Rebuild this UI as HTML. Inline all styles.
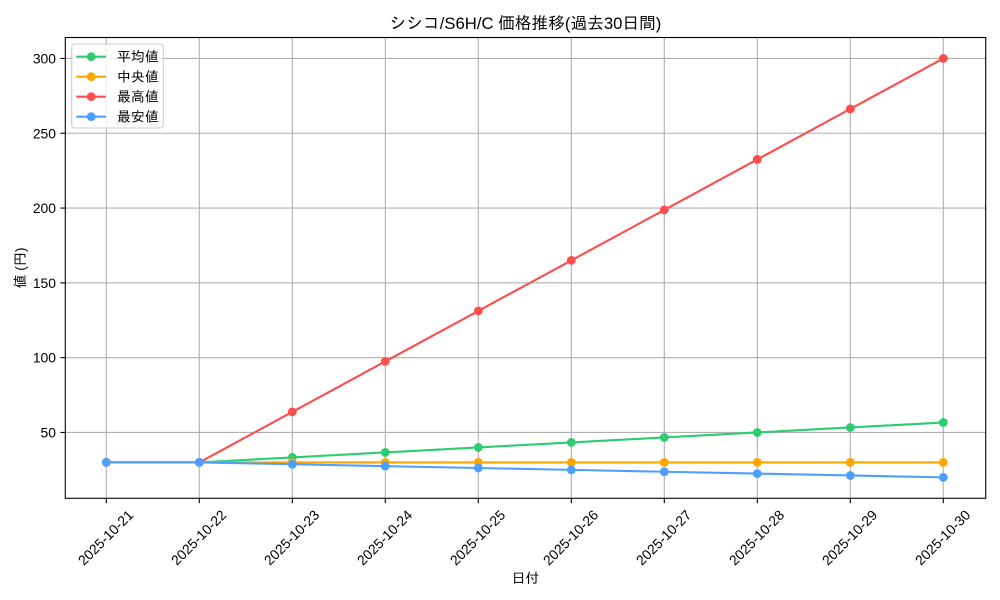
<!DOCTYPE html>
<html>
<head>
<meta charset="utf-8">
<style>
  html, body { margin: 0; padding: 0; background: #ffffff; }
  svg { display: block; }
  text { font-family: "Liberation Sans", "IPAGothic", sans-serif; fill: #000; }
</style>
</head>
<body>
<svg width="1000" height="600" viewBox="0 0 1000 600" xmlns="http://www.w3.org/2000/svg">
  <rect x="0" y="0" width="1000" height="600" fill="#ffffff"/>

  <!-- grid -->
  <g stroke="#b0b0b0" stroke-width="1.1" fill="none">
    <line x1="106.3" y1="37.5" x2="106.3" y2="498.3"/>
    <line x1="199.3" y1="37.5" x2="199.3" y2="498.3"/>
    <line x1="292.3" y1="37.5" x2="292.3" y2="498.3"/>
    <line x1="385.3" y1="37.5" x2="385.3" y2="498.3"/>
    <line x1="478.3" y1="37.5" x2="478.3" y2="498.3"/>
    <line x1="571.3" y1="37.5" x2="571.3" y2="498.3"/>
    <line x1="664.3" y1="37.5" x2="664.3" y2="498.3"/>
    <line x1="757.3" y1="37.5" x2="757.3" y2="498.3"/>
    <line x1="850.3" y1="37.5" x2="850.3" y2="498.3"/>
    <line x1="943.3" y1="37.5" x2="943.3" y2="498.3"/>
    <line x1="65.3" y1="58.45" x2="985.7" y2="58.45"/>
    <line x1="65.3" y1="133.25" x2="985.7" y2="133.25"/>
    <line x1="65.3" y1="208.05" x2="985.7" y2="208.05"/>
    <line x1="65.3" y1="282.86" x2="985.7" y2="282.86"/>
    <line x1="65.3" y1="357.66" x2="985.7" y2="357.66"/>
    <line x1="65.3" y1="432.46" x2="985.7" y2="432.46"/>
  </g>

  <!-- series -->
  <g stroke-width="2.1" fill="none" stroke-linejoin="round" stroke-linecap="square">
    <polyline stroke="#2ecc71" points="106.3,462.39 199.3,462.39 292.3,457.40 385.3,452.42 478.3,447.43 571.3,442.45 664.3,437.46 757.3,432.47 850.3,427.48 943.3,422.49"/>
    <polyline stroke="#ffa500" points="106.3,462.39 199.3,462.39 292.3,462.39 385.3,462.39 478.3,462.39 571.3,462.39 664.3,462.39 757.3,462.39 850.3,462.39 943.3,462.39"/>
    <polyline stroke="#ff4d4d" points="106.3,462.39 199.3,462.39 292.3,411.89 385.3,361.40 478.3,310.90 571.3,260.41 664.3,209.92 757.3,159.43 850.3,108.93 943.3,58.45"/>
    <polyline stroke="#4d9fff" points="106.3,462.39 199.3,462.39 292.3,464.26 385.3,466.13 478.3,468.00 571.3,469.87 664.3,471.74 757.3,473.61 850.3,475.48 943.3,477.36"/>
  </g>
  <g fill="#2ecc71">
    <circle cx="106.3" cy="462.39" r="4.4"/><circle cx="199.3" cy="462.39" r="4.4"/><circle cx="292.3" cy="457.40" r="4.4"/><circle cx="385.3" cy="452.42" r="4.4"/><circle cx="478.3" cy="447.43" r="4.4"/><circle cx="571.3" cy="442.45" r="4.4"/><circle cx="664.3" cy="437.46" r="4.4"/><circle cx="757.3" cy="432.47" r="4.4"/><circle cx="850.3" cy="427.48" r="4.4"/><circle cx="943.3" cy="422.49" r="4.4"/>
  </g>
  <g fill="#ffa500">
    <circle cx="106.3" cy="462.39" r="4.4"/><circle cx="199.3" cy="462.39" r="4.4"/><circle cx="292.3" cy="462.39" r="4.4"/><circle cx="385.3" cy="462.39" r="4.4"/><circle cx="478.3" cy="462.39" r="4.4"/><circle cx="571.3" cy="462.39" r="4.4"/><circle cx="664.3" cy="462.39" r="4.4"/><circle cx="757.3" cy="462.39" r="4.4"/><circle cx="850.3" cy="462.39" r="4.4"/><circle cx="943.3" cy="462.39" r="4.4"/>
  </g>
  <g fill="#ff4d4d">
    <circle cx="106.3" cy="462.39" r="4.4"/><circle cx="199.3" cy="462.39" r="4.4"/><circle cx="292.3" cy="411.89" r="4.4"/><circle cx="385.3" cy="361.40" r="4.4"/><circle cx="478.3" cy="310.90" r="4.4"/><circle cx="571.3" cy="260.41" r="4.4"/><circle cx="664.3" cy="209.92" r="4.4"/><circle cx="757.3" cy="159.43" r="4.4"/><circle cx="850.3" cy="108.93" r="4.4"/><circle cx="943.3" cy="58.45" r="4.4"/>
  </g>
  <g fill="#4d9fff">
    <circle cx="106.3" cy="462.39" r="4.4"/><circle cx="199.3" cy="462.39" r="4.4"/><circle cx="292.3" cy="464.26" r="4.4"/><circle cx="385.3" cy="466.13" r="4.4"/><circle cx="478.3" cy="468.00" r="4.4"/><circle cx="571.3" cy="469.87" r="4.4"/><circle cx="664.3" cy="471.74" r="4.4"/><circle cx="757.3" cy="473.61" r="4.4"/><circle cx="850.3" cy="475.48" r="4.4"/><circle cx="943.3" cy="477.36" r="4.4"/>
  </g>

  <!-- axes frame -->
  <rect x="65.3" y="37.5" width="920.4" height="460.8" fill="none" stroke="#000" stroke-width="1.1"/>

  <!-- ticks -->
  <g stroke="#000" stroke-width="1.1">
    <line x1="106.3" y1="498.3" x2="106.3" y2="503.2"/>
    <line x1="199.3" y1="498.3" x2="199.3" y2="503.2"/>
    <line x1="292.3" y1="498.3" x2="292.3" y2="503.2"/>
    <line x1="385.3" y1="498.3" x2="385.3" y2="503.2"/>
    <line x1="478.3" y1="498.3" x2="478.3" y2="503.2"/>
    <line x1="571.3" y1="498.3" x2="571.3" y2="503.2"/>
    <line x1="664.3" y1="498.3" x2="664.3" y2="503.2"/>
    <line x1="757.3" y1="498.3" x2="757.3" y2="503.2"/>
    <line x1="850.3" y1="498.3" x2="850.3" y2="503.2"/>
    <line x1="943.3" y1="498.3" x2="943.3" y2="503.2"/>
    <line x1="60.4" y1="58.45" x2="65.3" y2="58.45"/>
    <line x1="60.4" y1="133.25" x2="65.3" y2="133.25"/>
    <line x1="60.4" y1="208.05" x2="65.3" y2="208.05"/>
    <line x1="60.4" y1="282.86" x2="65.3" y2="282.86"/>
    <line x1="60.4" y1="357.66" x2="65.3" y2="357.66"/>
    <line x1="60.4" y1="432.46" x2="65.3" y2="432.46"/>
  </g>

  <!-- y tick labels -->
  <g font-size="13.9" text-anchor="end" dominant-baseline="central">
    <text x="56" y="58.45">300</text>
    <text x="56" y="133.25">250</text>
    <text x="56" y="208.05">200</text>
    <text x="56" y="282.86">150</text>
    <text x="56" y="357.66">100</text>
    <text x="56" y="432.46">50</text>
  </g>

  <!-- x tick labels -->
  <g font-size="13.9" text-anchor="middle" dominant-baseline="central">
    <text transform="translate(105.5,537.5) rotate(-45)">2025-10-21</text>
    <text transform="translate(198.5,537.5) rotate(-45)">2025-10-22</text>
    <text transform="translate(291.5,537.5) rotate(-45)">2025-10-23</text>
    <text transform="translate(384.5,537.5) rotate(-45)">2025-10-24</text>
    <text transform="translate(477.5,537.5) rotate(-45)">2025-10-25</text>
    <text transform="translate(570.5,537.5) rotate(-45)">2025-10-26</text>
    <text transform="translate(663.5,537.5) rotate(-45)">2025-10-27</text>
    <text transform="translate(756.5,537.5) rotate(-45)">2025-10-28</text>
    <text transform="translate(849.5,537.5) rotate(-45)">2025-10-29</text>
    <text transform="translate(942.5,537.5) rotate(-45)">2025-10-30</text>
  </g>

  <!-- axis labels -->
  <text x="525.5" y="578" font-size="13.9" text-anchor="middle" dominant-baseline="central">日付</text>
  <text transform="translate(20,268) rotate(-90)" font-size="13.9" text-anchor="middle" dominant-baseline="central">値 (円)</text>

  <!-- title -->
  <text x="525.5" y="23.5" font-size="16.7" text-anchor="middle" dominant-baseline="central">シシコ/S6H/C 価格推移(過去30日間)</text>

  <!-- legend -->
  <rect x="71.7" y="44" width="91.6" height="84" rx="3" ry="3" fill="#ffffff" fill-opacity="0.8" stroke="#cccccc" stroke-width="1.1"/>
  <g stroke-width="2.1">
    <line x1="76.3" y1="56.7" x2="106" y2="56.7" stroke="#2ecc71"/>
    <line x1="76.3" y1="76.7" x2="106" y2="76.7" stroke="#ffa500"/>
    <line x1="76.3" y1="96.7" x2="106" y2="96.7" stroke="#ff4d4d"/>
    <line x1="76.3" y1="116.7" x2="106" y2="116.7" stroke="#4d9fff"/>
  </g>
  <circle cx="91.2" cy="56.7" r="4.4" fill="#2ecc71"/>
  <circle cx="91.2" cy="76.7" r="4.4" fill="#ffa500"/>
  <circle cx="91.2" cy="96.7" r="4.4" fill="#ff4d4d"/>
  <circle cx="91.2" cy="116.7" r="4.4" fill="#4d9fff"/>
  <g font-size="13.9" dominant-baseline="central">
    <text x="117" y="56.7">平均値</text>
    <text x="117" y="76.7">中央値</text>
    <text x="117" y="96.7">最高値</text>
    <text x="117" y="116.7">最安値</text>
  </g>
</svg>
</body>
</html>
